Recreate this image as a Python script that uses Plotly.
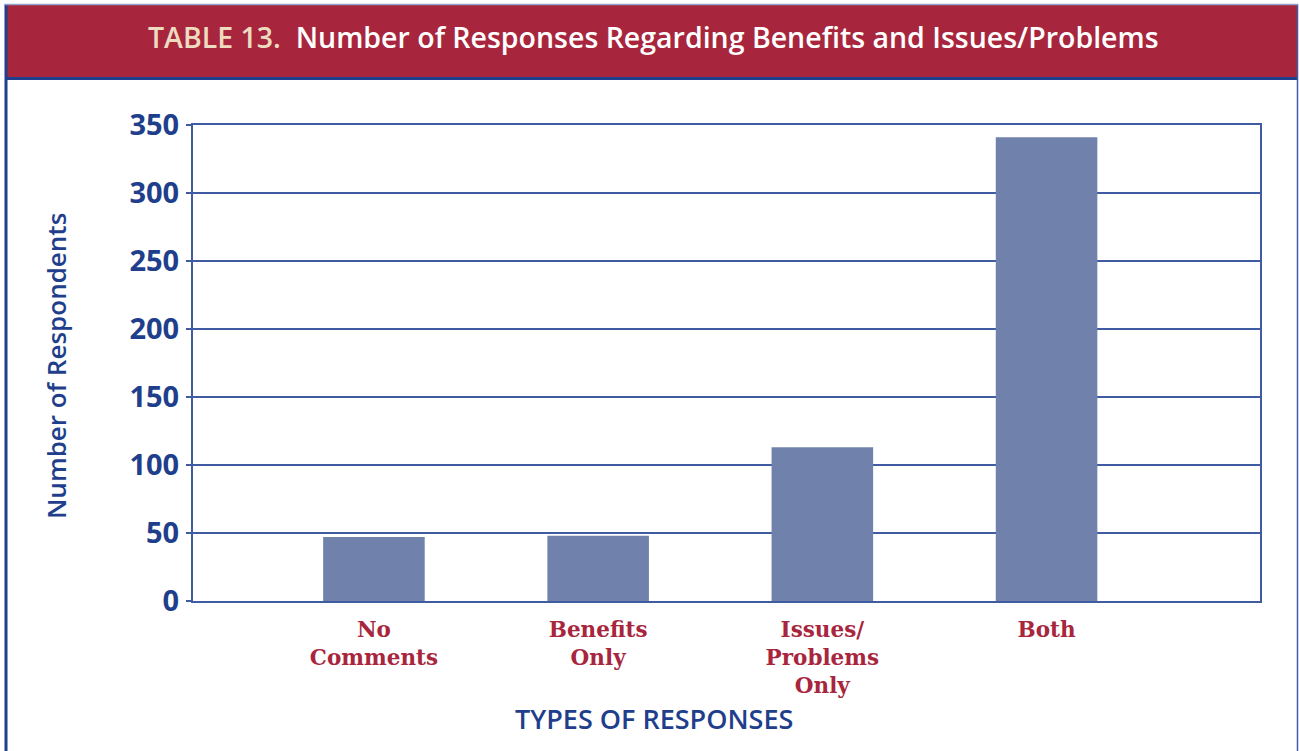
import plotly.graph_objects as go

categories = ["No<br>Comments", "Benefits<br>Only", "Issues/<br>Problems<br>Only", "Both"]
respondents = [47, 48, 113, 341]
y_ticks = [0, 50, 100, 150, 200, 250, 300, 350]
grid_vals = [50, 100, 150, 200, 250, 300, 350]

W, H = 1299, 751
BLUE = "#1F3F8C"
LINE = "#3F5CA3"
RED = "#A8263D"
BAR = "#7082AC"

def px(x):
    return x / W

def py(y):
    return 1 - y / H

fig = go.Figure()
fig.add_trace(go.Bar(
    x=list(range(len(categories))), y=respondents,
    width=0.453, marker=dict(color=BAR, line=dict(width=0)),
    hoverinfo="y",
))

fig.update_layout(
    width=W, height=H,
    margin=dict(l=0, r=0, t=0, b=0, pad=0, autoexpand=False),
    paper_bgcolor="white", plot_bgcolor="white",
    showlegend=False,
    xaxis=dict(
        domain=[px(193), px(1260)],
        range=[-0.807, 3.952],
        tickvals=list(range(len(categories))), ticktext=categories,
        tickfont=dict(family="DejaVu Serif", size=21.5, color=RED, weight="bold"),
        showgrid=False, zeroline=False, automargin=False,
        showline=True, linecolor=LINE, linewidth=2, mirror=True,
        ticks="", ticklabelstandoff=8,
    ),
    yaxis=dict(
        domain=[py(601), py(125)],
        range=[0, 350],
        tickvals=y_ticks,
        tickfont=dict(family="Open Sans", size=29, color=BLUE, weight="bold"),
        showgrid=False, zeroline=False, automargin=False,
        showline=True, linecolor=LINE, linewidth=2, mirror=True,
        ticks="outside", ticklen=5, tickcolor=LINE, tickwidth=1.5,
        ticklabelstandoff=1,
        minor=dict(tickvals=grid_vals, showgrid=True, gridcolor=LINE, gridwidth=1.5, ticks=""),
    ),
    shapes=[
        dict(type="rect", xref="paper", yref="paper", x0=px(7), x1=px(1297), y0=py(77), y1=py(5),
             fillcolor=RED, line=dict(width=0), layer="below"),
        dict(type="line", xref="paper", yref="paper", x0=px(6), x1=px(1297), y0=py(78.5), y1=py(78.5),
             line=dict(color="#1F3F8C", width=3)),
        dict(type="line", xref="paper", yref="paper", x0=px(6), x1=px(6), y0=py(4), y1=py(751),
             line=dict(color="#1F3F8C", width=3)),
        dict(type="line", xref="paper", yref="paper", x0=px(1297.5), x1=px(1297.5), y0=py(4), y1=py(751),
             line=dict(color=LINE, width=1.5)),
        dict(type="line", xref="paper", yref="paper", x0=px(5), x1=px(1298), y0=py(4.5), y1=py(4.5),
             line=dict(color="#8FA3CF", width=1.5)),
    ],
    annotations=[
        dict(xref="paper", yref="paper", x=px(653), y=py(37), xanchor="center", yanchor="middle",
             text="<span style='color:#EDDCC0'>TABLE 13.</span>&nbsp; Number of Responses Regarding Benefits and Issues/Problems",
             showarrow=False, font=dict(family="Open Sans", size=28.5, color="white", weight=600)),
        dict(xref="paper", yref="paper", x=px(56), y=py(366), xanchor="center", yanchor="middle",
             text="Number of Respondents", textangle=-90, showarrow=False,
             font=dict(family="Open Sans", size=26, color=BLUE, weight=600)),
        dict(xref="paper", yref="paper", x=px(654), y=py(718), xanchor="center", yanchor="middle",
             text="TYPES OF RESPONSES", showarrow=False,
             font=dict(family="Open Sans", size=27, color=BLUE, weight=600)),
    ],
)

fig.write_html(
    "out.html",
    config={"displayModeBar": False},
    post_script="document.body.style.margin='0';document.body.style.overflow='hidden';",
)
